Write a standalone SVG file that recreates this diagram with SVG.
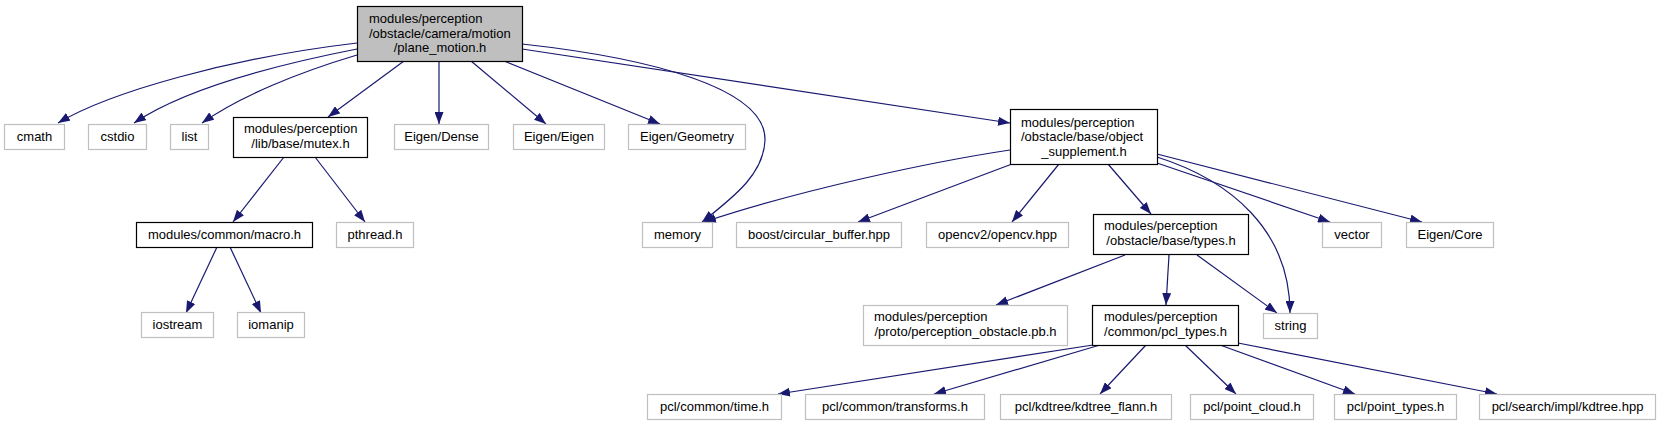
<svg xmlns="http://www.w3.org/2000/svg" width="1659" height="427" viewBox="0 0 1659 427">
<style>
text{font-family:"Liberation Sans",Arial,Helvetica,sans-serif;font-size:13px;fill:#000}
.m{text-anchor:middle}
.s{text-anchor:start}
.g rect{fill:#fff;stroke:#bfbfbf;stroke-width:1.2}
.b rect{fill:#fff;stroke:#000;stroke-width:1.2}
.r rect{fill:#bfbfbf;stroke:#000;stroke-width:1.2}
#edges path{fill:none;stroke:#191970;stroke-width:1.2;marker-end:url(#ah)}
</style>
<defs>
<marker id="ah" markerUnits="userSpaceOnUse" viewBox="0 0 12 9" refX="12" refY="4.5" markerWidth="12" markerHeight="9" orient="auto">
<path d="M0,0 L12,4.5 L0,9 z" fill="#191970"/>
</marker>
</defs>
<rect width="1659" height="427" fill="#fff"/>
<g id="edges">
<path d="M357,43 C230,58 110,92 58,123"/>
<path d="M357,49 C260,68 180,92 134,123"/>
<path d="M357,55 C300,72 240,96 202,123"/>
<path d="M404,61 L328,117"/>
<path d="M439,61 L439,124"/>
<path d="M471,61 L546,124"/>
<path d="M504,61 L660,124"/>
<path d="M522,44 C650,58 766,88 765,140 C764,172 738,194 702,222"/>
<path d="M522,49 L1010,123"/>
<path d="M284,157 L233,222"/>
<path d="M315,157 L365,222"/>
<path d="M217,247 L186,313"/>
<path d="M230,247 L261,313"/>
<path d="M1010,150 C930,162 800,190 704,222"/>
<path d="M1012,164 L858,222"/>
<path d="M1059,164 L1012,222"/>
<path d="M1108,164 L1151,214"/>
<path d="M1157,157 C1230,180 1290,230 1290,313"/>
<path d="M1157,163 L1330,222"/>
<path d="M1157,154 L1422,222"/>
<path d="M1125,255 L996,305"/>
<path d="M1169,255 L1166,305"/>
<path d="M1197,255 L1277,313"/>
<path d="M1093,345 L778,394"/>
<path d="M1100,345 L934,394"/>
<path d="M1146,345 L1100,394"/>
<path d="M1185,345 L1236,394"/>
<path d="M1220,345 L1355,394"/>
<path d="M1238,343 L1497,394"/>
</g>
<g id="root" class="r"><rect x="357.5" y="6.5" width="165" height="55"/>
<text class="s" x="369" y="23">modules/perception</text>
<text class="s" x="369" y="37.5">/obstacle/camera/motion</text>
<text class="m" x="440" y="52">/plane_motion.h</text></g>
<g id="cmath" class="g"><rect x="4.5" y="124.5" width="60" height="25"/><text class="m" x="34.5" y="141">cmath</text></g>
<g id="cstdio" class="g"><rect x="88.5" y="124.5" width="58" height="25"/><text class="m" x="117.5" y="141">cstdio</text></g>
<g id="list" class="g"><rect x="170.5" y="124.5" width="38" height="25"/><text class="m" x="189.5" y="141">list</text></g>
<g id="mutex" class="b"><rect x="233.5" y="117.5" width="134" height="40"/>
<text class="s" x="244" y="133">modules/perception</text>
<text class="m" x="300.5" y="147.5">/lib/base/mutex.h</text></g>
<g id="eigen_dense" class="g"><rect x="394.5" y="124.5" width="94" height="25"/><text class="m" x="441.5" y="141">Eigen/Dense</text></g>
<g id="eigen_eigen" class="g"><rect x="513.5" y="124.5" width="91" height="25"/><text class="m" x="559" y="141">Eigen/Eigen</text></g>
<g id="eigen_geometry" class="g"><rect x="628.5" y="124.5" width="117" height="25"/><text class="m" x="687" y="141">Eigen/Geometry</text></g>
<g id="object_supplement" class="b"><rect x="1010.5" y="109.5" width="147" height="55"/>
<text class="s" x="1021" y="126.5">modules/perception</text>
<text class="s" x="1021" y="141">/obstacle/base/object</text>
<text class="m" x="1084" y="155.5">_supplement.h</text></g>
<g id="macro" class="b"><rect x="136.5" y="222.5" width="176" height="25"/><text class="m" x="224.5" y="239">modules/common/macro.h</text></g>
<g id="pthread" class="g"><rect x="336.5" y="222.5" width="77" height="25"/><text class="m" x="375" y="239">pthread.h</text></g>
<g id="memory" class="g"><rect x="642.5" y="222.5" width="70" height="25"/><text class="m" x="677.5" y="239">memory</text></g>
<g id="boost" class="g"><rect x="736.5" y="222.5" width="165" height="25"/><text class="m" x="819" y="239">boost/circular_buffer.hpp</text></g>
<g id="opencv" class="g"><rect x="926.5" y="222.5" width="142" height="25"/><text class="m" x="997.5" y="239">opencv2/opencv.hpp</text></g>
<g id="types" class="b"><rect x="1093.5" y="214.5" width="155" height="40"/>
<text class="s" x="1104" y="230">modules/perception</text>
<text class="m" x="1171" y="244.5">/obstacle/base/types.h</text></g>
<g id="vector" class="g"><rect x="1322.5" y="222.5" width="59" height="25"/><text class="m" x="1352" y="239">vector</text></g>
<g id="eigen_core" class="g"><rect x="1406.5" y="222.5" width="87" height="25"/><text class="m" x="1450" y="239">Eigen/Core</text></g>
<g id="iostream" class="g"><rect x="141.5" y="312.5" width="72" height="25"/><text class="m" x="177.5" y="329">iostream</text></g>
<g id="iomanip" class="g"><rect x="237.5" y="312.5" width="67" height="25"/><text class="m" x="271" y="329">iomanip</text></g>
<g id="proto" class="g"><rect x="863.5" y="305.5" width="204" height="40"/>
<text class="s" x="874" y="321">modules/perception</text>
<text class="m" x="965.5" y="335.5">/proto/perception_obstacle.pb.h</text></g>
<g id="pcl_types" class="b"><rect x="1092.5" y="305.5" width="146" height="40"/>
<text class="s" x="1104" y="321">modules/perception</text>
<text class="m" x="1165.5" y="335.5">/common/pcl_types.h</text></g>
<g id="string" class="g"><rect x="1263.5" y="313.5" width="54" height="25"/><text class="m" x="1290.5" y="330">string</text></g>
<g id="pcl_time" class="g"><rect x="647.5" y="394.5" width="134" height="25"/><text class="m" x="714.5" y="411">pcl/common/time.h</text></g>
<g id="pcl_transforms" class="g"><rect x="805.5" y="394.5" width="179" height="25"/><text class="m" x="895" y="411">pcl/common/transforms.h</text></g>
<g id="pcl_kdtree_flann" class="g"><rect x="1000.5" y="394.5" width="171" height="25"/><text class="m" x="1086" y="411">pcl/kdtree/kdtree_flann.h</text></g>
<g id="pcl_point_cloud" class="g"><rect x="1190.5" y="394.5" width="123" height="25"/><text class="m" x="1252" y="411">pcl/point_cloud.h</text></g>
<g id="pcl_point_types" class="g"><rect x="1334.5" y="394.5" width="122" height="25"/><text class="m" x="1395.5" y="411">pcl/point_types.h</text></g>
<g id="pcl_search_kdtree" class="g"><rect x="1479.5" y="394.5" width="176" height="25"/><text class="m" x="1567.5" y="411">pcl/search/impl/kdtree.hpp</text></g>
</svg>
